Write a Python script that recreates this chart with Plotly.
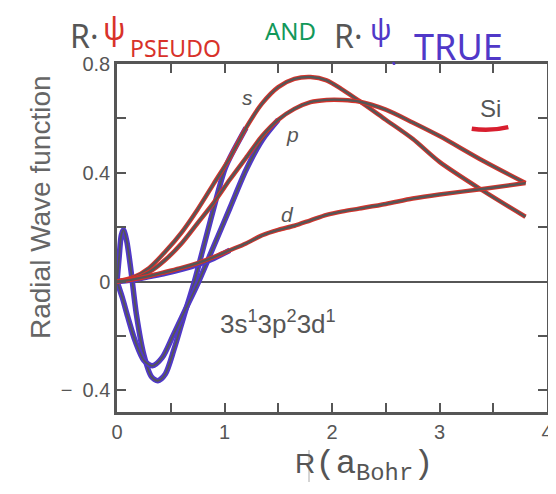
import plotly.graph_objects as go

# ---------------- data ----------------
r_pseudo = [0, 0.15, 0.3, 0.45, 0.6, 0.75, 0.9, 1.05, 1.2, 1.35, 1.5, 1.65, 1.8, 1.95, 2.1, 2.25, 2.5, 2.75, 3.0, 3.4, 3.8]
s_pseudo = [0, 0.015, 0.05, 0.11, 0.18, 0.265, 0.36, 0.455, 0.565, 0.655, 0.715, 0.745, 0.752, 0.74, 0.705, 0.665, 0.595, 0.525, 0.44, 0.335, 0.238]
p_pseudo = [0, 0.01, 0.035, 0.08, 0.14, 0.215, 0.29, 0.375, 0.455, 0.535, 0.595, 0.635, 0.66, 0.668, 0.668, 0.662, 0.632, 0.585, 0.535, 0.445, 0.362]
d_pseudo = [0, 0.008, 0.02, 0.035, 0.05, 0.068, 0.09, 0.115, 0.14, 0.17, 0.19, 0.205, 0.225, 0.245, 0.258, 0.268, 0.285, 0.305, 0.32, 0.34, 0.362]

r_true_s = [0, 0.02, 0.04, 0.06, 0.09, 0.13, 0.18, 0.25, 0.32, 0.38, 0.45, 0.53, 0.62, 0.72, 0.82, 0.92, 1.0, 1.05, 1.2]
s_true = [0, 0.09, 0.17, 0.19, 0.15, 0.04, -0.12, -0.27, -0.35, -0.365, -0.34, -0.25, -0.13, 0.0, 0.15, 0.3, 0.41, 0.455, 0.565]

r_true_p = [0, 0.05, 0.1, 0.17, 0.25, 0.33, 0.42, 0.52, 0.64, 0.76, 0.9, 1.05, 1.2, 1.35, 1.5]
p_true = [0, -0.06, -0.13, -0.22, -0.29, -0.31, -0.28, -0.2, -0.1, 0.0, 0.13, 0.27, 0.41, 0.52, 0.595]

r_true_d = [0, 0.1, 0.2, 0.3, 0.45, 0.6, 0.75, 0.9, 1.05]
d_true = [0, 0.004, 0.01, 0.018, 0.03, 0.045, 0.062, 0.085, 0.115]

x_tickvals = [0, 0.5, 1, 1.5, 2, 2.5, 3, 3.5, 4]
x_ticktext = ["0", "", "1", "", "2", "", "3", "", "4"]
y_tickvals = [-0.4, -0.2, 0, 0.2, 0.4, 0.6, 0.8]
y_ticktext = ["\u2212\u20020.4", "", "0", "", "0.4", "", "0.8"]

# ---------------- styles ----------------
GRAY = "#565656"
RED = "#d8322a"
BLUE = "#5038c8"
GREEN = "#12985a"
SANS = "Liberation Sans, Arial, sans-serif"

OFF = 8  # page body margin
W, H = 556 - OFF, 494 - 2 * OFF
# desired plot area in screen pixels: x 117..547, y 64..412
ML, MT = 117 - OFF, 64 - OFF
MR = W - (547 - OFF)
MB = H - (412 - OFF)


def paper(sx, sy):
    """screen pixel -> paper coords"""
    fx, fy = sx - OFF, sy - OFF
    return (fx - ML) / (W - ML - MR), (H - MB - fy) / (H - MT - MB)


fig = go.Figure()

# true wavefunctions (blue with gray core)
for r, v in [(r_true_s, s_true), (r_true_p, p_true), (r_true_d, d_true)]:
    fig.add_trace(go.Scatter(x=r, y=v, mode="lines", line=dict(color=BLUE, width=5.5, shape="spline", smoothing=0.8),
                             hoverinfo="skip", showlegend=False))
    fig.add_trace(go.Scatter(x=r, y=v, mode="lines", line=dict(color=GRAY, width=1.8, shape="spline", smoothing=0.8),
                             hoverinfo="skip", showlegend=False))

# pseudo wavefunctions (red with gray core)
for v in [s_pseudo, p_pseudo, d_pseudo]:
    fig.add_trace(go.Scatter(x=r_pseudo, y=v, mode="lines", line=dict(color=RED, width=4.5, shape="spline", smoothing=0.8),
                             hoverinfo="skip", showlegend=False))
    fig.add_trace(go.Scatter(x=r_pseudo, y=v, mode="lines", line=dict(color=GRAY, width=2.4, shape="spline", smoothing=0.8),
                             hoverinfo="skip", showlegend=False))

ann = []
C = dict(xanchor="center", yanchor="middle", showarrow=False)
# curve labels
for x, y, t in [(1.21, 0.675, "s"), (1.63, 0.54, "p"), (1.59, 0.245, "d")]:
    ann.append(dict(x=x, y=y, xref="x", yref="y", text=f"<i>{t}</i>",
                    font=dict(family=SANS, size=21, color=GRAY), **C))
ann.append(dict(x=3.47, y=0.635, xref="x", yref="y", text="Si",
                font=dict(family=SANS, size=24, color=GRAY), **C))
ann.append(dict(x=1.5, y=-0.15, xref="x", yref="y", text="3s<sup>1</sup>3p<sup>2</sup>3d<sup>1</sup>",
                font=dict(family=SANS, size=26, color=GRAY), **C))

# y axis title
px_, py_ = paper(40, 207)
ann.append(dict(x=px_, y=py_, xref="paper", yref="paper", text="Radial Wave function", textangle=-90,
                font=dict(family=SANS, size=28, color="#666666"), **C))

# x axis title
px_, py_ = paper(364, 466)
ann.append(dict(x=px_, y=py_, xref="paper", yref="paper",
                text='R<span style="font-family:Liberation Mono;font-size:34px">(a<sub>Bohr</sub>)</span>',
                font=dict(family=SANS, size=28, color="#555555"), **C))

# handwritten title pieces
for cx, cy, t, col, sz in [
    (84, 36, "R\u00b7", GRAY, 32),
    (114, 28, "\u03c8", RED, 30),
    (175, 48, "PSEUDO", RED, 23),
    (290, 30, "AND", GREEN, 24),
    (348, 35, "R\u00b7", GRAY, 32),
    (381, 29, "\u03c8", BLUE, 29),
    (394, 56, ".", BLUE, 22),
    (458, 47, "TRUE", BLUE, 36),
]:
    px_, py_ = paper(cx, cy)
    ann.append(dict(x=px_, y=py_, xref="paper", yref="paper", text=t,
                    font=dict(family="Noto Sans, sans-serif", size=sz, color=col), **C))

x0, y0 = paper(309, 450)
x1, y1 = paper(309, 482)

fig.update_layout(
    width=W, height=H,
    margin=dict(l=ML, r=MR, t=MT, b=MB, autoexpand=False),
    paper_bgcolor="white", plot_bgcolor="white",
    annotations=ann,
    shapes=[
        dict(type="path", xref="x", yref="y", path="M 3.3 0.562 Q 3.47 0.552 3.64 0.568",
             line=dict(color="#d81e2e", width=4.5)),
        dict(type="line", xref="paper", yref="paper", x0=x0, y0=y0, x1=x1, y1=y1,
             line=dict(color="#aaaaaa", width=1)),
    ],
)
fig.update_xaxes(range=[0, 4], tickvals=x_tickvals, ticktext=x_ticktext, ticks="inside", ticklen=9, tickwidth=2,
                 tickcolor=GRAY, showline=True, linecolor=GRAY, linewidth=2.5, mirror="ticks", showgrid=False,
                 zeroline=False, automargin=False, tickfont=dict(family=SANS, size=20, color=GRAY))
fig.update_yaxes(range=[-0.48, 0.8], tickvals=y_tickvals, ticktext=y_ticktext, ticks="inside", ticklen=9, tickwidth=2,
                 tickcolor=GRAY, showline=True, linecolor=GRAY, linewidth=2.5, mirror="ticks", showgrid=False,
                 zeroline=True, zerolinecolor=GRAY, zerolinewidth=2, automargin=False,
                 tickfont=dict(family=SANS, size=20, color=GRAY))

fig.write_html("out.html")
